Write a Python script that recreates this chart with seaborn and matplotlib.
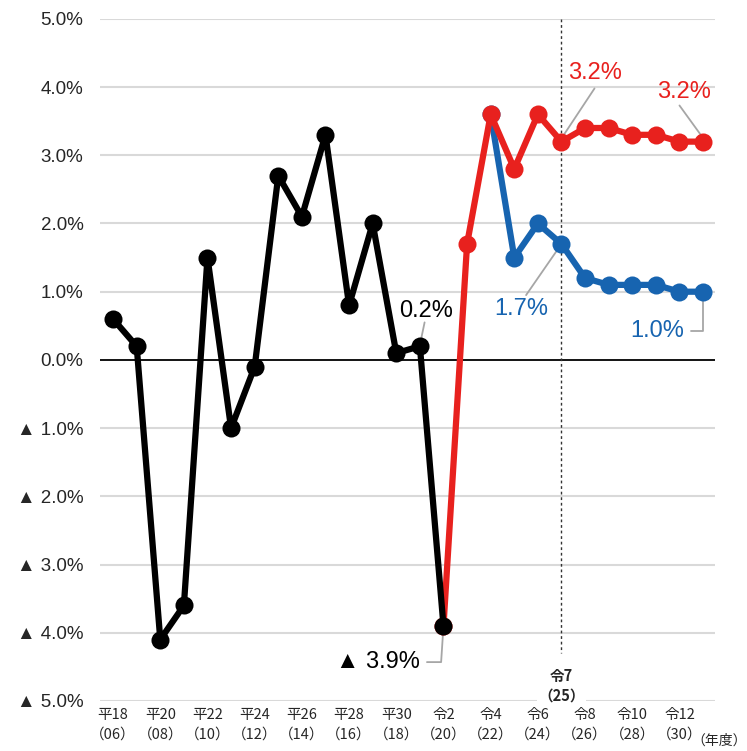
import numpy as np
import pandas as pd
import matplotlib
matplotlib.use("Agg")
import matplotlib.pyplot as plt
import seaborn as sns

# 実績 (2006-2020)
years_act = list(range(2006, 2021))
vals_act = [0.6, 0.2, -4.1, -3.6, 1.5, -1.0, -0.1, 2.7, 2.1, 3.3, 0.8, 2.0, 0.1, 0.2, -3.9]
# 成長実現ケース (2020-2031)
years_high = list(range(2020, 2032))
vals_high = [-3.9, 1.7, 3.6, 2.8, 3.6, 3.2, 3.4, 3.4, 3.3, 3.3, 3.2, 3.2]
# ベースラインケース (2022-2031)
years_base = list(range(2022, 2032))
vals_base = [3.6, 1.5, 2.0, 1.7, 1.2, 1.1, 1.1, 1.1, 1.0, 1.0]

tick_years = list(range(2006, 2031, 2))
tick_labels = ["平18\n（06）", "平20\n（08）", "平22\n（10）", "平24\n（12）", "平26\n（14）",
               "平28\n（16）", "平30\n（18）", "令2\n（20）", "令4\n（22）", "令6\n（24）",
               "令8\n（26）", "令10\n（28）", "令12\n（30）"]
y_ticks = [5, 4, 3, 2, 1, 0, -1, -2, -3, -4, -5]

RED = "#e8211e"
BLUE = "#1764b0"
JP = ["Noto Sans CJK JP", "DejaVu Sans"]

sns.set_style("white")
plt.rcParams['font.family'] = ['Liberation Sans', 'DejaVu Sans']

fig = plt.figure(figsize=(7.47, 7.51), dpi=100)
ax = fig.add_axes([0.134, 0.0666, 0.823, 0.9083])

df_act = pd.DataFrame({"year": years_act, "v": vals_act})
df_high = pd.DataFrame({"year": years_high, "v": vals_high})
df_base = pd.DataFrame({"year": years_base, "v": vals_base})

for y in y_ticks:
    if y != 0:
        ax.axhline(y, color="#d9d9d9", lw=1.5, zorder=0)
ax.axhline(0, color="black", lw=1.3, zorder=1)

ax.plot([2025, 2025], [5, -4.3], color="#333333", lw=1, ls=(0, (2, 2)), zorder=2)

mk = dict(marker="o", markersize=13, linewidth=4.5, markeredgewidth=0)
sns.lineplot(data=df_base, x="year", y="v", ax=ax, color=BLUE, zorder=3, **mk)
sns.lineplot(data=df_high, x="year", y="v", ax=ax, color=RED, zorder=4, **mk)
sns.lineplot(data=df_act, x="year", y="v", ax=ax, color="black", zorder=5, **mk)

ax.set_xlim(2005.45, 2031.5)
ax.set_ylim(-5, 5)
ax.set_xlabel("")
ax.set_ylabel("")
ax.set_yticks(y_ticks)
ax.set_yticklabels([f"{v:.1f}%" if v >= 0 else f"▲ {abs(v):.1f}%" for v in y_ticks],
                   fontsize=13.5)
ax.set_xticks(tick_years)
ax.set_xticklabels(tick_labels, fontsize=10.5, family=JP, linespacing=1.5)
ax.tick_params(axis="both", length=0)
ax.tick_params(axis="y", pad=12)
ax.tick_params(axis="x", pad=5)
for s in ax.spines.values():
    s.set_visible(False)

fig.text(1.0, 1 - 741 / 751, "（年度）", fontsize=10, family=JP, ha="right", va="center")
ax.text(2025, -4.78, "令7\n（25）", fontsize=10.5, fontweight="bold", ha="center", va="center",
        family=JP, linespacing=1.3,
        bbox=dict(facecolor="white", edgecolor="none", pad=1), zorder=6)

lead = dict(color="#a6a6a6", lw=1.3, zorder=2)
fs = 17
# 0.2%
ax.plot([2019.0, 2019.2], [0.22, 0.55], **lead)
ax.text(2019.25, 0.72, "0.2%", fontsize=fs, color="black", ha="center", va="center")
# ▲3.9%
ax.plot([2020.0, 2019.9, 2019.3], [-3.9, -4.43, -4.43], **lead)
ax.text(2019.0, -4.43, "▲ 3.9%", fontsize=fs, color="black", ha="right", va="center")
# 1.7%
ax.plot([2024.8, 2023.5], [1.6, 0.95], **lead)
ax.text(2023.3, 0.75, "1.7%", fontsize=fs, color=BLUE, ha="center", va="center")
# 1.0%
ax.plot([2031, 2031, 2030.5], [0.9, 0.42, 0.42], **lead)
ax.text(2030.2, 0.42, "1.0%", fontsize=fs, color=BLUE, ha="right", va="center")
# 3.2% (2025)
ax.plot([2025.1, 2026.4], [3.3, 3.98], **lead)
ax.text(2026.4, 4.2, "3.2%", fontsize=fs, color=RED, ha="center", va="center")
# 3.2% (2031)
ax.plot([2030.9, 2030.0], [3.3, 3.73], **lead)
ax.text(2030.2, 3.93, "3.2%", fontsize=fs, color=RED, ha="center", va="center")

fig.savefig("out.png", dpi=100)
